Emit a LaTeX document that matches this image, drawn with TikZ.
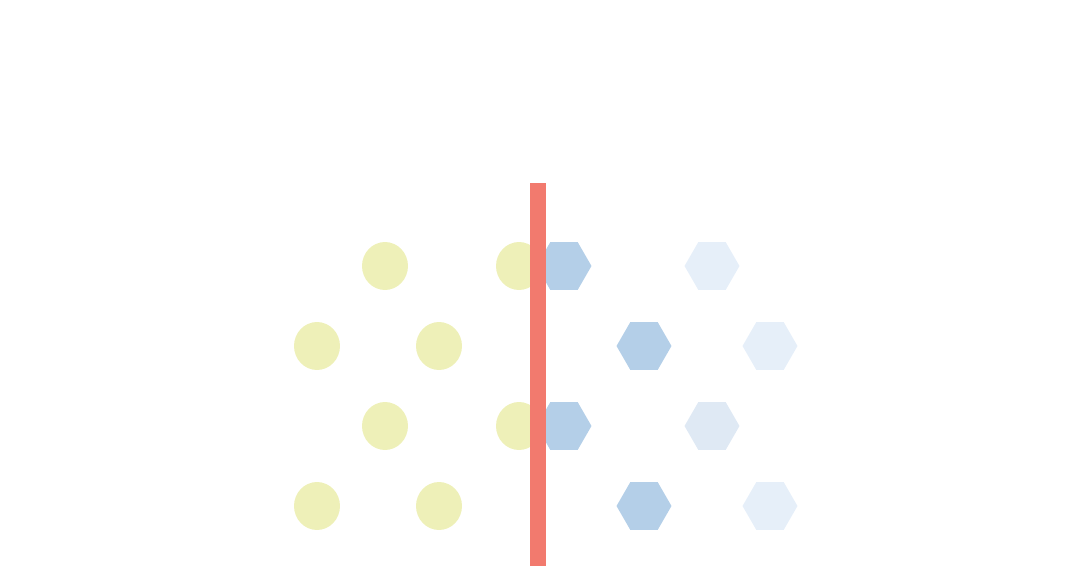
\documentclass[tikz,border=0pt]{standalone}
\usepackage{tikz}
\usepackage{xcolor}
\usetikzlibrary{shapes.geometric}
\definecolor{mYellow}{HTML}{EEF0B8}
\definecolor{mBlue}{HTML}{B4CFE8}
\definecolor{mPale}{HTML}{E6EFF9}
\definecolor{mPaleB}{HTML}{DFE9F4}
\definecolor{mRed}{HTML}{F27A6E}

\begin{document}
\begin{tikzpicture}[x=0.02cm, y=-0.02cm,
  dot/.style={ellipse, fill=mYellow, draw=none, inner sep=0pt,
              minimum width=0.92cm, minimum height=0.96cm},
  hex/.style={regular polygon, regular polygon sides=6, fill=mBlue,
              draw=none, inner sep=0pt, minimum size=1.1cm},
  wall/.style={rectangle, fill=mRed, draw=none, inner sep=0pt,
               minimum width=0.32cm, minimum height=7.66cm},
]
  \useasboundingbox (0,0) rectangle (1083,569);
  % circles on the left
  \node[dot] (c1) at (385,266) {};
  \node[dot] (c2) at (519,266) {};
  \node[dot] (c3) at (317,346) {};
  \node[dot] (c4) at (439,346) {};
  \node[dot] (c5) at (385,426) {};
  \node[dot] (c6) at (519,426) {};
  \node[dot] (c7) at (317,506) {};
  \node[dot] (c8) at (439,506) {};
  % hexagons on the right
  \node[hex] (h1) at (564,266) {};
  \node[hex] (h2) at (644,346) {};
  \node[hex] (h3) at (564,426) {};
  \node[hex] (h4) at (644,506) {};
  \node[hex, fill=mPale] (h5) at (712,266) {};
  \node[hex, fill=mPale] (h6) at (770,346) {};
  \node[hex, fill=mPaleB] (h7) at (712,426) {};
  \node[hex, fill=mPale] (h8) at (770,506) {};
  % the barrier
  \node[wall] (bar) at (538,374.5) {};
\end{tikzpicture}
\end{document}
